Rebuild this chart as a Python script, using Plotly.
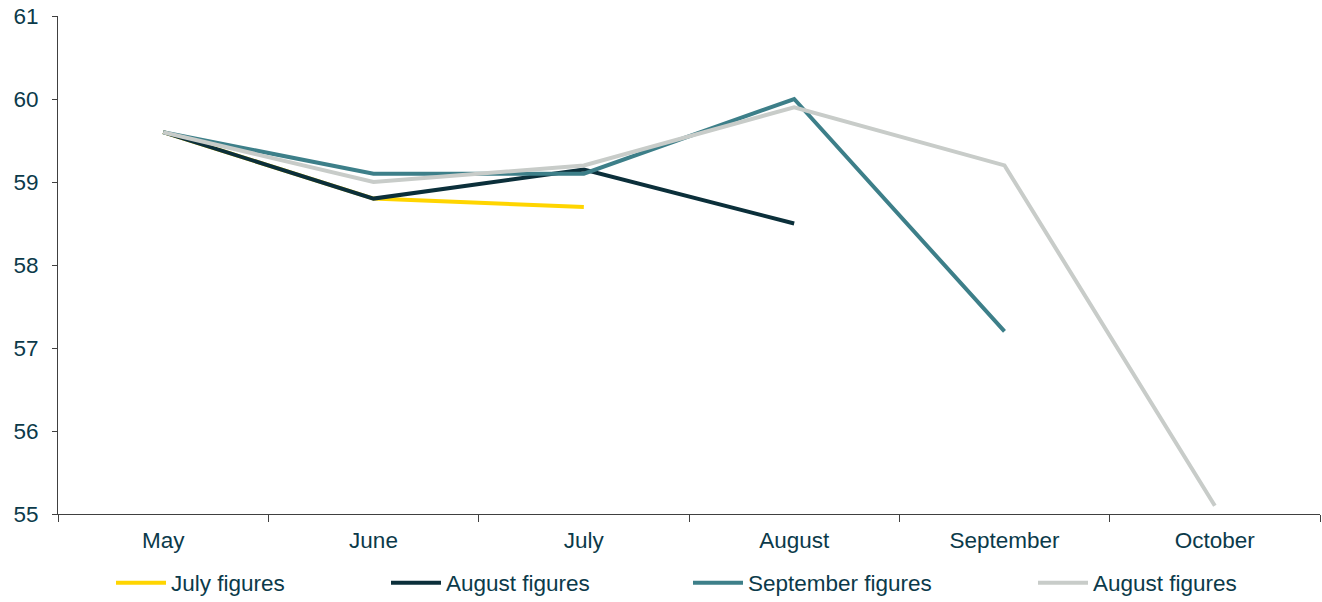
import plotly.graph_objects as go

months = ["May", "June", "July", "August", "September", "October"]
july_fig = [59.6, 58.8, 58.7]
aug_fig = [59.6, 58.8, 59.15, 58.5]
sep_fig = [59.6, 59.1, 59.1, 60.0, 57.2]
aug_fig2 = [59.6, 59.0, 59.2, 59.9, 59.2, 55.1]
y_ticks = [55, 56, 57, 58, 59, 60, 61]

series = [
    ("July figures", july_fig, "#FFD500"),
    ("August figures", aug_fig, "#0B2F3A"),
    ("September figures", sep_fig, "#3D7F89"),
    ("August figures", aug_fig2, "#C8CCC9"),
]
legend_x = [111, 386, 688, 1033]  # container pixels for each legend box

txt = "#0B3A4A"
FS = 22.5
fig = go.Figure()
layout_legends = {}
for i, (name, vals, col) in enumerate(series):
    lname = "legend" if i == 0 else f"legend{i+1}"
    fig.add_trace(go.Scatter(
        x=months[:len(vals)], y=vals, mode="lines", name=name,
        line=dict(color=col, width=4), legend=lname,
    ))
    layout_legends[lname] = dict(
        orientation="h", xref="container", yref="container",
        x=legend_x[i] / 1322, xanchor="left",
        y=1 - 583 / 602, yanchor="middle",
        font=dict(size=FS, color=txt), itemwidth=50,
        bgcolor="rgba(0,0,0,0)",
    )

fig.update_layout(
    width=1322, height=602,
    margin=dict(l=58, r=2, t=16, b=88, autoexpand=False),
    paper_bgcolor="white", plot_bgcolor="white",
    font=dict(family="Liberation Sans, Arial, sans-serif", size=FS, color=txt),
    showlegend=True,
    **layout_legends,
)
fig.update_xaxes(
    type="category", categoryorder="array", categoryarray=months,
    range=[-0.5, 5.5], showline=True, linecolor="#404040", linewidth=1,
    ticks="outside", tickson="boundaries", ticklen=7, tickcolor="#404040",
    showgrid=False, zeroline=False, tickfont=dict(size=FS, color=txt),
    automargin=False, ticklabelstandoff=6,
)
fig.update_yaxes(
    range=[55, 61], tickvals=y_ticks, showline=True, linecolor="#404040", linewidth=1,
    ticks="outside", ticklen=5, tickcolor="#404040",
    showgrid=False, zeroline=False, tickfont=dict(size=FS, color=txt),
    automargin=False, ticklabelstandoff=9,
)
fig.write_html(
    "out.html",
    config={"displayModeBar": False},
    post_script="document.body.style.margin='0';document.body.style.overflow='hidden';",
)
